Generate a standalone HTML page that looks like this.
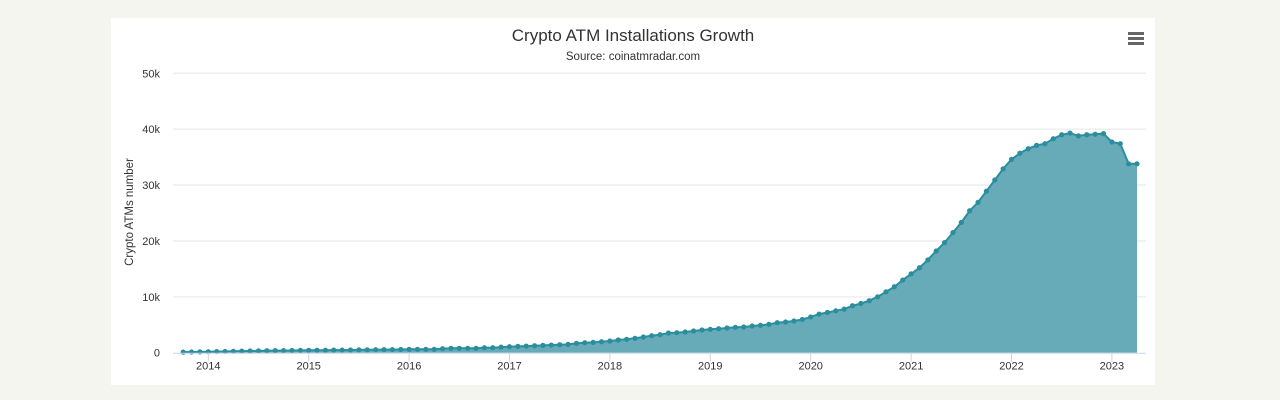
<!DOCTYPE html>
<html><head><meta charset="utf-8">
<style>
html,body{margin:0;padding:0;background:#f5f5f0;width:1280px;height:400px;overflow:hidden;font-family:"Liberation Sans",sans-serif;}
#card{position:absolute;left:111px;top:18px;width:1044px;height:367px;background:#fff;}
svg{position:absolute;left:0;top:0;}
</style></head>
<body>
<div id="card"></div>
<svg id="chart" width="1280" height="400">
<text x="633" y="41" text-anchor="middle" font-size="17" fill="#333">Crypto ATM Installations Growth</text>
<text x="633" y="60" text-anchor="middle" font-size="11.5" fill="#333">Source: coinatmradar.com</text>
<g>
<rect x="1128" y="32" width="16" height="3" fill="#666"/><rect x="1128" y="37" width="16" height="3" fill="#666"/><rect x="1128" y="42" width="16" height="3" fill="#666"/>
</g>
<text transform="translate(133,212) rotate(-90)" text-anchor="middle" font-size="11.5" fill="#333">Crypto ATMs number</text>
<g id="grid"></g><g id="series"></g><g id="axes"></g>
</svg>
<script>
const yTicks=[0,10000,20000,30000,40000,50000];
const yTickLabels=["0","10k","20k","30k","40k","50k"];
const xYears=[2014,2015,2016,2017,2018,2019,2020,2021,2022,2023];
const startYear=2013, startMonth=9; // Oct 2013 (0-based month)
const values=[
0.10,0.12,0.15,
0.18,0.20,0.22,0.25,0.28,0.30,0.32,0.35,0.37,0.38,0.40,0.42,
0.43,0.44,0.45,0.46,0.47,0.48,0.50,0.52,0.54,0.55,0.56,0.58,
0.60,0.60,0.60,0.60,0.72,0.78,0.78,0.78,0.78,0.90,0.90,1.01,
1.07,1.13,1.19,1.25,1.31,1.37,1.43,1.49,1.67,1.79,1.85,1.97,
2.09,2.27,2.39,2.57,2.81,3.04,3.22,3.52,3.58,3.70,3.88,4.06,
4.18,4.30,4.42,4.54,4.60,4.78,4.90,5.07,5.37,5.49,5.67,5.95,
6.4,6.9,7.2,7.5,7.8,8.4,8.8,9.3,10.0,10.9,11.8,13.0,
14.1,15.2,16.6,18.2,19.7,21.5,23.3,25.4,26.9,28.9,30.9,32.9,
34.6,35.7,36.5,37.1,37.4,38.3,39.0,39.3,38.8,39.0,39.1,39.2,
37.7,37.4,33.8,33.8
].map(v=>v*1000);
const NS="http://www.w3.org/2000/svg";
const X0=208.3, PXY=100.4, Y0=352.7, PX10K=55.88;
const xOf=t=>X0+(t-2014)*PXY; // t in fractional years
const yOf=v=>Y0-v/10000*PX10K;
function mk(tag,attrs,parent){const e=document.createElementNS(NS,tag);for(const k in attrs)e.setAttribute(k,attrs[k]);parent.appendChild(e);return e;}
const grid=document.getElementById('grid'),axes=document.getElementById('axes'),ser=document.getElementById('series');
yTicks.forEach((v,i)=>{
  if(v>0){const l=mk('line',{x1:173,x2:1146,y1:yOf(v),y2:yOf(v),stroke:'#e6e6e6','stroke-width':1},grid);
  
  }
  const t=mk('text',{x:160,y:yOf(v)+4,'text-anchor':'end','font-size':11,fill:'#333'},axes);
  t.textContent=yTickLabels[i];
  
  
});
const pts=values.map((v,i)=>{const m=startMonth+i;const t=startYear+Math.floor(m/12)+(m%12)/12;return [xOf(t),yOf(v)];});
let d='M'+pts[0][0]+','+Y0+' '+pts.map(p=>'L'+p[0].toFixed(1)+','+p[1].toFixed(1)).join(' ')+' L'+pts[pts.length-1][0]+','+Y0+' Z';
const area=mk('path',{d:d,fill:'#66abb7'},ser);


const line=mk('path',{d:'M'+pts.map(p=>p[0].toFixed(1)+','+p[1].toFixed(1)).join(' L'),fill:'none',stroke:'#2a8e9e','stroke-width':2},ser);


pts.forEach(p=>{const c=mk('circle',{cx:p[0],cy:p[1],r:2.6,fill:'#2a8e9e'},ser);

});
const ax=mk('line',{x1:173,x2:1146,y1:Y0+0.5,y2:Y0+0.5,stroke:'#ccd6eb','stroke-width':1},axes);


xYears.forEach(yr=>{
  const x=xOf(yr);
  const tk=mk('line',{x1:x,x2:x,y1:Y0,y2:Y0+9,stroke:'#ccd6eb','stroke-width':1},axes);
  
  
  const t=mk('text',{x:x,y:Y0+17,'text-anchor':'middle','font-size':11,fill:'#333'},axes);
  t.textContent=String(yr);
  
  
});
</script>
</body></html>
